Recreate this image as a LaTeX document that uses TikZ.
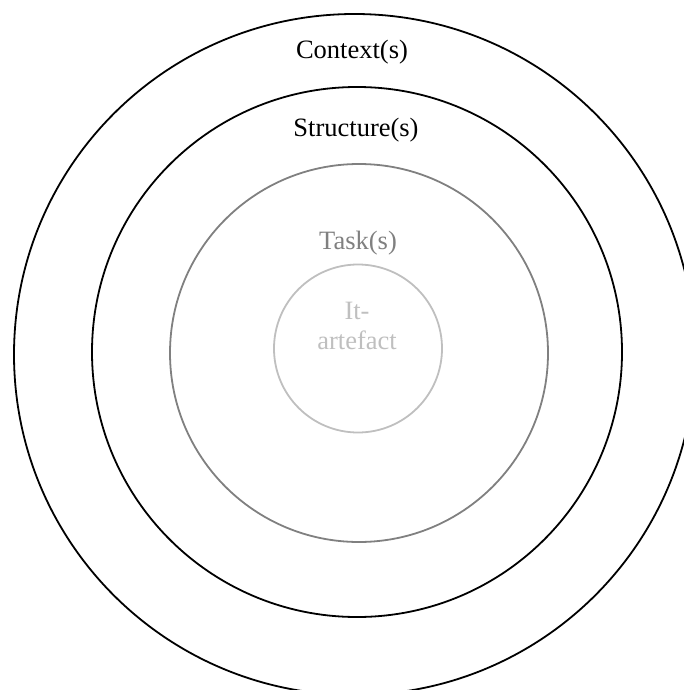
\documentclass[tikz,border=0pt]{standalone}
\usepackage{fontspec}
\setmainfont{Liberation Serif}
\definecolor{taskgray}{HTML}{808080}
\definecolor{artgray}{HTML}{BFBFBF}
\tikzset{
  ring/.style={line width=1.8pt},
  lbl/.style={font=\fontsize{26.5}{30}\selectfont, inner sep=0pt, align=center}
}
\begin{document}
\begin{tikzpicture}[x=1pt,y=-1pt]
\useasboundingbox (0,0) rectangle (684,690);
\clip (0,0) rectangle (684,690);
\draw[ring, black] (354.5,354.5) circle[radius=340.5pt];
\draw[ring, black] (357,352) circle[radius=265pt];
\draw[ring, taskgray] (359,353) circle[radius=189pt];
\draw[ring, artgray] (358,348.5) circle[radius=84pt];
\node[lbl, text=black] (context) at (352,52) {Context(s)};
\node[lbl, text=black] (structure) at (356,130) {Structure(s)};
\node[lbl, text=taskgray] (task) at (358,243) {Task(s)};
\node[lbl, text=artgray] (artefact) at (357,326) {It-\\artefact};
\end{tikzpicture}
\end{document}
